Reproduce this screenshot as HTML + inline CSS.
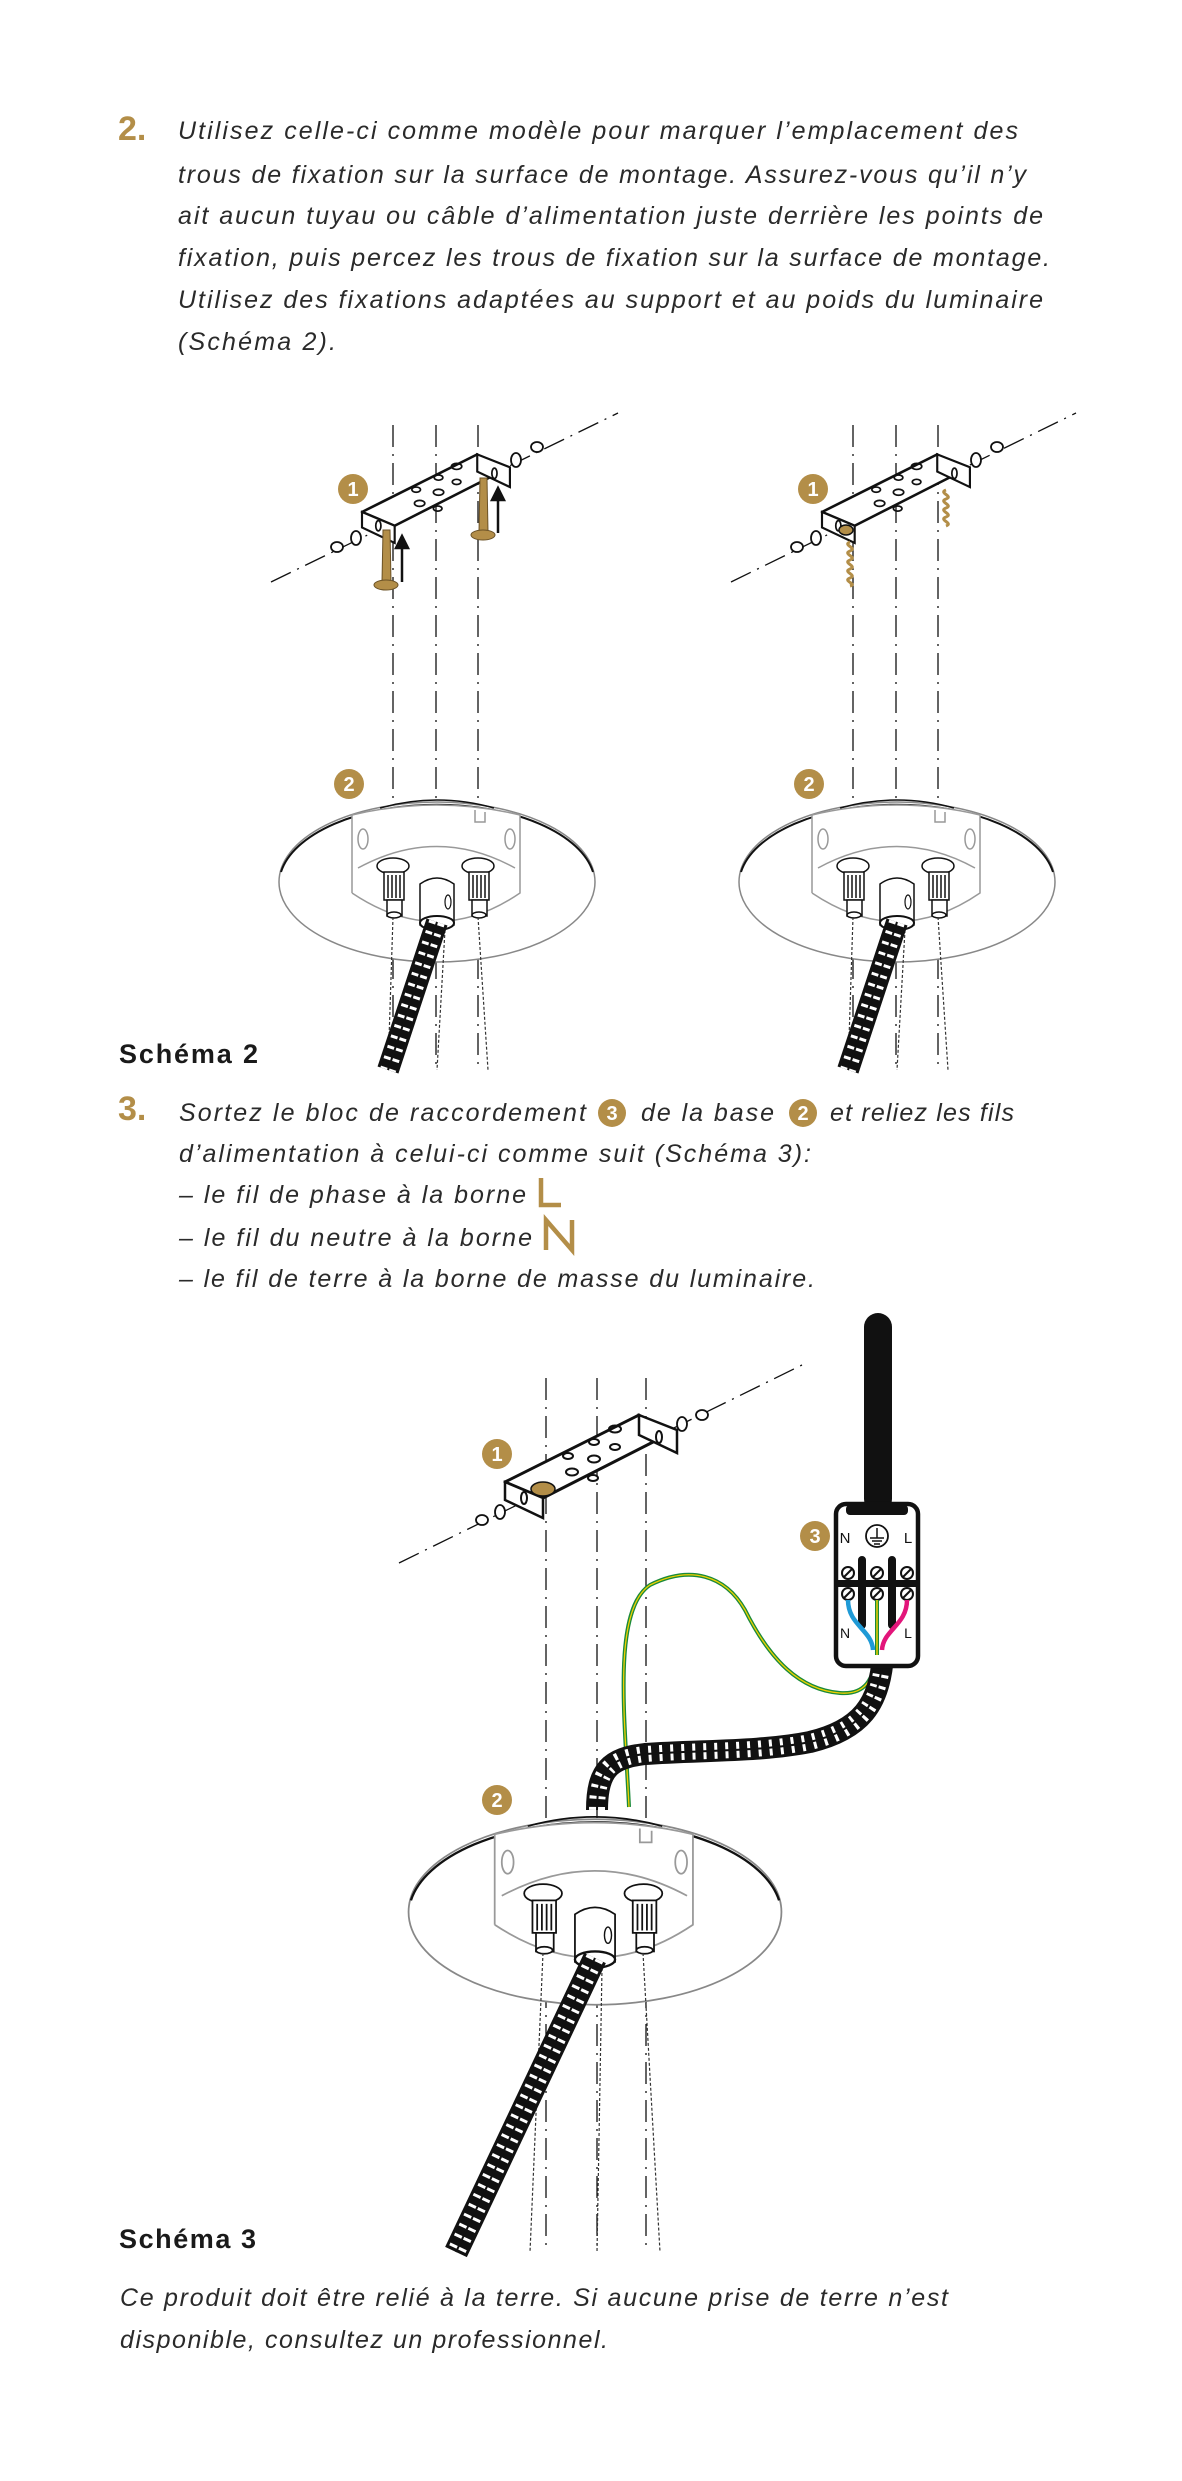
<!DOCTYPE html>
<html><head><meta charset="utf-8"><style>
html,body{margin:0;padding:0;background:#fff}
svg{display:block}
.t{font-family:"Liberation Sans",sans-serif;font-style:italic;font-size:25px;fill:#2a2a2a}
.b{font-family:"Liberation Sans",sans-serif;font-weight:bold;font-size:27px;fill:#1a1a1a}
.g{font-family:"Liberation Sans",sans-serif;font-weight:bold;fill:#b38e48}
.bn{font-family:"Liberation Sans",sans-serif;font-weight:bold;font-size:20px;fill:#fff;text-anchor:middle}
.d{stroke:#111;stroke-width:1.3;stroke-dasharray:22 7 2 7;fill:none}
.dw{stroke:#333;stroke-width:1.2;stroke-dasharray:3 2;fill:none}
.c1{stroke:#111;fill:none}
.c2{stroke:#fff;fill:none;stroke-dasharray:3 8}
</style></head><body>
<svg width="1182" height="2481" viewBox="0 0 1182 2481" xmlns="http://www.w3.org/2000/svg">
<defs>
<g id="brk">
 <polygon points="0,0 134,-67 152,-42 38,16" fill="#fff" stroke="#111" stroke-width="3" stroke-linejoin="round"/>
 <polygon points="0,0 38,16 38,36 0,18" fill="#fff" stroke="#111" stroke-width="2.5"/>
 <polygon points="134,-67 172,-52 172,-29 134,-47" fill="#fff" stroke="#111" stroke-width="2.5"/>
 <ellipse cx="19" cy="16" rx="3" ry="6" fill="none" stroke="#111" stroke-width="2"/>
 <ellipse cx="154" cy="-45" rx="3" ry="6" fill="none" stroke="#111" stroke-width="2"/>
 <g fill="none" stroke="#111" stroke-width="2">
  <ellipse cx="63" cy="-26" rx="5" ry="3"/><ellipse cx="89" cy="-40" rx="5" ry="3"/><ellipse cx="110" cy="-53" rx="6" ry="3.5"/>
  <ellipse cx="67" cy="-10" rx="6" ry="3.5"/><ellipse cx="89" cy="-23" rx="6" ry="3.5"/><ellipse cx="110" cy="-35" rx="5" ry="3"/>
  <ellipse cx="88" cy="-4" rx="5" ry="3"/>
 </g>
</g>
<g id="base">
 <ellipse cx="437" cy="882" rx="158" ry="80" fill="#fff" stroke="#888" stroke-width="1.5"/>
 <path d="M281,872 A158,80 0 0 1 593,872" fill="none" stroke="#111" stroke-width="2"/>
 <path d="M380,808 Q437,792 494,808" fill="none" stroke="#111" stroke-width="1.5"/>
 <path d="M352,893 L352,815 Q437,795 520,815 L520,893 Q437,950 352,893" fill="#fff" stroke="#999" stroke-width="1.5"/>
 <path d="M358,868 Q437,825 515,868" fill="none" stroke="#999" stroke-width="1.5"/>
 <ellipse cx="363" cy="839" rx="5" ry="10" fill="none" stroke="#999" stroke-width="1.5"/>
 <ellipse cx="510" cy="839" rx="5" ry="10" fill="none" stroke="#999" stroke-width="1.5"/>
 <path d="M475,810 L475,822 L485,822 L485,812" fill="none" stroke="#999" stroke-width="1.5"/>
 <g id="post" fill="#fff" stroke="#111" stroke-width="1.5">
  <ellipse cx="393" cy="866" rx="16" ry="8"/>
  <rect x="384" y="872" width="20" height="28"/>
  <path d="M388,875 V898 M392,875 V898 M396,875 V898 M400,875 V898" />
  <rect x="387" y="900" width="15" height="16"/>
  <ellipse cx="394" cy="915" rx="7" ry="3"/>
 </g>
 <use href="#post" transform="translate(85,0)"/>
 <path d="M420,925 V884 Q437,872 454,884 V925 Z" fill="#fff" stroke="#111" stroke-width="1.5"/>
 <ellipse cx="448" cy="902" rx="3" ry="7" fill="none" stroke="#111" stroke-width="1.2"/>
 <ellipse cx="437" cy="923" rx="17" ry="7" fill="#fff" stroke="#111" stroke-width="2"/>
</g>
<g id="cab2">
 <path d="M393,917 L388,1070 M478,917 L488,1070 M445,930 L437,1070" class="dw"/>
 <path d="M437,922 L388,1070" class="c1" stroke-width="22"/>
 <path d="M437,922 L388,1070" class="c2" stroke-width="16"/>
 <path d="M437,922 L388,1070" class="c1" stroke-width="2"/>
</g>
<g id="badge"><circle r="15" fill="#b38e48"/></g>
</defs>

<!-- Step 2 text -->
<text x="118" y="140" class="g" font-size="34">2.</text>
<text class="t" x="178" y="139" textLength="840" lengthAdjust="spacing">Utilisez celle-ci comme modèle pour marquer l’emplacement des</text>
<text class="t" x="178" y="183" textLength="848" lengthAdjust="spacing">trous de fixation sur la surface de montage. Assurez-vous qu’il n’y</text>
<text class="t" x="178" y="224" textLength="865" lengthAdjust="spacing">ait aucun tuyau ou câble d’alimentation juste derrière les points de</text>
<text class="t" x="178" y="266" textLength="872" lengthAdjust="spacing">fixation, puis percez les trous de fixation sur la surface de montage.</text>
<text class="t" x="178" y="308" textLength="865" lengthAdjust="spacing">Utilisez des fixations adaptées au support et au poids du luminaire</text>
<text class="t" x="178" y="350" textLength="158" lengthAdjust="spacing">(Schéma 2).</text>

<!-- Schema 2 -->
<path d="M271,582 L618,413" class="d"/>
<path d="M731,582 L1076,413" class="d"/>
<path d="M393,425 V1070 M436,425 V1070 M478,425 V1070" class="d"/>
<path d="M853,425 V1070 M896,425 V1070 M938,425 V1070" class="d"/>
<use href="#base"/>
<use href="#base" transform="translate(460,0)"/>
<use href="#cab2"/>
<use href="#cab2" transform="translate(460,0)"/>
<use href="#brk" transform="translate(362,512) scale(0.86)"/>
<use href="#brk" transform="translate(822,512) scale(0.86)"/>
<g fill="#fff" stroke="#111" stroke-width="1.8">
 <ellipse cx="356" cy="538" rx="5" ry="7"/><ellipse cx="337" cy="547" rx="6" ry="5"/>
 <ellipse cx="516" cy="460" rx="5" ry="7"/><ellipse cx="537" cy="447" rx="6" ry="5"/>
 <ellipse cx="816" cy="538" rx="5" ry="7"/><ellipse cx="797" cy="547" rx="6" ry="5"/>
 <ellipse cx="976" cy="460" rx="5" ry="7"/><ellipse cx="997" cy="447" rx="6" ry="5"/>
</g>
<g fill="#b38e48" stroke="#6b5226" stroke-width="1">
 <path d="M383,530 L390,530 L391,582 L382,582 Z"/><ellipse cx="386" cy="585" rx="12" ry="5"/>
 <path d="M480,478 L487,478 L488,532 L479,532 Z"/><ellipse cx="483" cy="535" rx="12" ry="5"/>
</g>
<g stroke="#111" stroke-width="2.5" fill="#111">
 <path d="M402,582 V545"/><polygon points="396,548 402,536 408,548"/>
 <path d="M498,533 V497"/><polygon points="492,500 498,488 504,500"/>
</g>
<g fill="none" stroke="#b38e48" stroke-width="3">
 <path d="M850,542 c-8,3 8,6 0,9 c-8,3 8,6 0,9 c-8,3 8,6 0,9 c-8,3 8,6 0,9 c-8,3 8,6 0,8"/>
 <path d="M946,490 c-8,3 8,6 0,9 c-8,3 8,6 0,9 c-8,3 8,6 0,9 c-8,3 8,6 0,9"/>
</g>
<ellipse cx="846" cy="530" rx="7" ry="5" fill="#b38e48" stroke="#111" stroke-width="1.5"/>
<use href="#badge" x="353" y="489"/><text class="bn" x="353" y="496">1</text>
<use href="#badge" x="813" y="489"/><text class="bn" x="813" y="496">1</text>
<use href="#badge" x="349" y="784"/><text class="bn" x="349" y="791">2</text>
<use href="#badge" x="809" y="784"/><text class="bn" x="809" y="791">2</text>

<text class="b" x="119" y="1063" textLength="139" lengthAdjust="spacing">Schéma 2</text>

<!-- Step 3 text -->
<text x="118" y="1120" class="g" font-size="34">3.</text>
<text class="t" x="179" y="1121" textLength="407" lengthAdjust="spacing">Sortez le bloc de raccordement</text>
<circle cx="612" cy="1113" r="14" fill="#b38e48"/><text class="bn" x="612" y="1120" font-size="19">3</text>
<text class="t" x="641" y="1121" textLength="133" lengthAdjust="spacing">de la base</text>
<circle cx="803" cy="1113" r="14" fill="#b38e48"/><text class="bn" x="803" y="1120" font-size="19">2</text>
<text class="t" x="830" y="1121" textLength="184" lengthAdjust="spacing">et reliez les fils</text>
<text class="t" x="179" y="1162" textLength="632" lengthAdjust="spacing">d’alimentation à celui-ci comme suit (Schéma 3):</text>
<text class="t" x="179" y="1203" textLength="347" lengthAdjust="spacing">– le fil de phase à la borne</text>
<path d="M541,1178 V1205 H561" stroke="#b38e48" stroke-width="4.5" fill="none"/>
<text class="t" x="179" y="1246" textLength="353" lengthAdjust="spacing">– le fil du neutre à la borne</text>
<path d="M546,1250 V1220 L572,1250 V1220" stroke="#b38e48" stroke-width="4.5" fill="none"/>
<text class="t" x="179" y="1287" textLength="636" lengthAdjust="spacing">– le fil de terre à la borne de masse du luminaire.</text>

<!-- Schema 3 -->
<path d="M399,1563 L802,1365" class="d"/>
<path d="M546,1378 V2252 M597,1378 V2252 M646,1378 V2252" class="d"/>
<use href="#base" transform="translate(595,1912) scale(1.18,1.16) translate(-437,-882)"/>
<path d="M543,1953 L530,2252 M643,1953 L660,2252 M602,1968 L597,2252" class="dw"/>
<path d="M595,1958 L456,2252" class="c1" stroke-width="24"/>
<path d="M595,1958 L456,2252" class="c2" stroke-width="18"/>
<path d="M595,1958 L456,2252" class="c1" stroke-width="2"/>
<use href="#brk" transform="translate(505,1482)"/>
<ellipse cx="543" cy="1489" rx="12" ry="7" fill="#b38e48" stroke="#111" stroke-width="1.5"/>
<g fill="#fff" stroke="#111" stroke-width="1.8">
 <ellipse cx="500" cy="1512" rx="5" ry="7"/><ellipse cx="482" cy="1520" rx="6" ry="5"/>
 <ellipse cx="682" cy="1424" rx="5" ry="7"/><ellipse cx="702" cy="1415" rx="6" ry="5"/>
</g>
<path d="M629,1807 C625,1720 612,1610 650,1585 C690,1565 725,1575 745,1610 C770,1660 800,1690 840,1693 C865,1695 874,1680 877,1652" fill="none" stroke="#1a8a3a" stroke-width="4"/>
<path d="M629,1807 C625,1720 612,1610 650,1585 C690,1565 725,1575 745,1610 C770,1660 800,1690 840,1693 C865,1695 874,1680 877,1652" fill="none" stroke="#f0d000" stroke-width="1.3"/>
<path d="M597,1810 C597,1770 610,1758 645,1754 C700,1750 760,1752 810,1742 C860,1730 880,1705 883,1655" class="c1" stroke-width="22"/>
<path d="M597,1810 C597,1770 610,1758 645,1754 C700,1750 760,1752 810,1742 C860,1730 880,1705 883,1655" class="c2" stroke-width="16"/>
<path d="M597,1810 C597,1770 610,1758 645,1754 C700,1750 760,1752 810,1742 C860,1730 880,1705 883,1655" class="c1" stroke-width="2"/>
<rect x="864" y="1313" width="28" height="200" rx="14" fill="#111"/>
<rect x="836" y="1504" width="82" height="162" rx="10" fill="#fff" stroke="#111" stroke-width="4.5"/>
<rect x="846" y="1505" width="62" height="10" rx="4" fill="#111"/>
<text x="845" y="1543" font-family="Liberation Sans,sans-serif" font-size="15" fill="#111" text-anchor="middle">N</text>
<text x="908" y="1543" font-family="Liberation Sans,sans-serif" font-size="15" fill="#111" text-anchor="middle">L</text>
<circle cx="877" cy="1536" r="11" fill="#fff" stroke="#111" stroke-width="1.8"/>
<path d="M877,1528 V1538 M870,1538 H884 M872,1541 H882 M874,1544 H880" stroke="#111" stroke-width="1.5"/>
<rect x="836" y="1580" width="82" height="7" fill="#111"/>
<path d="M862,1560 V1625 M892,1560 V1625" stroke="#111" stroke-width="8" stroke-linecap="round"/>
<g fill="#fff" stroke="#111" stroke-width="2">
 <circle cx="848" cy="1573" r="6"/><circle cx="877" cy="1573" r="6"/><circle cx="907" cy="1573" r="6"/>
 <circle cx="848" cy="1594" r="6"/><circle cx="877" cy="1594" r="6"/><circle cx="907" cy="1594" r="6"/>
</g>
<path d="M844,1577 L852,1569 M873,1577 L881,1569 M903,1577 L911,1569 M844,1598 L852,1590 M873,1598 L881,1590 M903,1598 L911,1590" stroke="#111" stroke-width="2"/>
<path d="M848,1600 C848,1625 872,1630 873,1650" fill="none" stroke="#1f9ad6" stroke-width="4.5"/>
<path d="M907,1600 C907,1625 883,1630 882,1650" fill="none" stroke="#e2157a" stroke-width="4.5"/>
<path d="M877,1600 V1655" stroke="#1a8a3a" stroke-width="4"/><path d="M877,1600 V1655" stroke="#f0d000" stroke-width="1.5"/>
<text x="845" y="1638" font-family="Liberation Sans,sans-serif" font-size="14" fill="#111" text-anchor="middle">N</text>
<text x="908" y="1638" font-family="Liberation Sans,sans-serif" font-size="14" fill="#111" text-anchor="middle">L</text>
<use href="#badge" x="497" y="1454"/><text class="bn" x="497" y="1461">1</text>
<use href="#badge" x="815" y="1536"/><text class="bn" x="815" y="1543">3</text>
<use href="#badge" x="497" y="1800"/><text class="bn" x="497" y="1807">2</text>

<text class="b" x="119" y="2248" textLength="137" lengthAdjust="spacing">Schéma 3</text>
<text class="t" x="120" y="2306" textLength="828" lengthAdjust="spacing">Ce produit doit être relié à la terre. Si aucune prise de terre n’est</text>
<text class="t" x="120" y="2348" textLength="488" lengthAdjust="spacing">disponible, consultez un professionnel.</text>
</svg>
</body></html>
